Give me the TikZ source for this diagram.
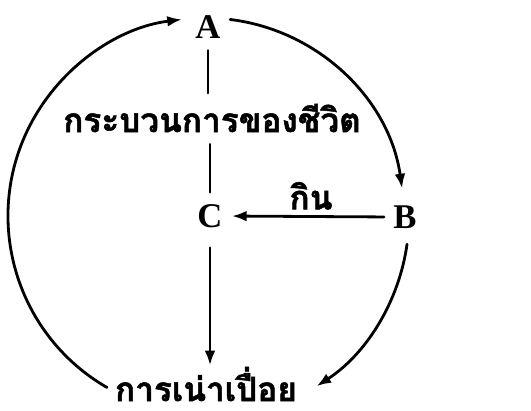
\documentclass[tikz,border=0pt]{standalone}
\usepackage{fontspec}
\setmainfont{Liberation Serif}
\newfontfamily\thaifont[Script=Thai, BoldFeatures={FakeBold=1.5}]{Loma}
\usetikzlibrary{arrows.meta}
\begin{document}
\begin{tikzpicture}[x=0.75pt, y=0.75pt, line width=2.1pt, line cap=round, >={Latex[length=11pt,width=8pt]},
		letter/.style={font=\fontsize{26}{26}\selectfont\bfseries, inner sep=0pt},
		thaitext/.style={font=\thaifont\fontsize{25}{25}\selectfont\bfseries, inner sep=0pt}]
	\useasboundingbox (0,0) rectangle (531,410);
	\coordinate (O) at (206,194);
	\node[letter] (A) at (208,383) {A};
	\node[letter] (C) at (210,194) {C};
	\node[letter] (B) at (405,193) {B};
	\node[thaitext] (life) at (212,292) {กระบวนการของชีวิต};
	\node[thaitext] (rot) at (206,26) {การเน่าเปื่อย};
	\node[thaitext, anchor=south] (eat) at (311,199) {กิน};
	% vertical line through the middle
	\draw[shorten <=8pt, shorten >=7pt] (A.south) -- (A.south |- life.north);
	\draw[shorten <=8pt, shorten >=8pt] (C.north |- life.south) -- (C.north);
	\draw[->, shorten <=14pt, shorten >=0pt] (C.south) -- (C.south |- rot.north);
	\draw[->, shorten <=6pt, shorten >=6pt] (B.west) -- (C.east);
	% the cycle
	\draw[->] ([shift={(240:198)}]O) arc[start angle=240, end angle=97, radius=198];
	\draw[->] ([shift={(83:198)}]O) arc[start angle=83, end angle=8, radius=198];
	\draw[->] ([shift={(-8:203)}]O) arc[start angle=-8, end angle=-57, radius=203];
\end{tikzpicture}
\end{document}
